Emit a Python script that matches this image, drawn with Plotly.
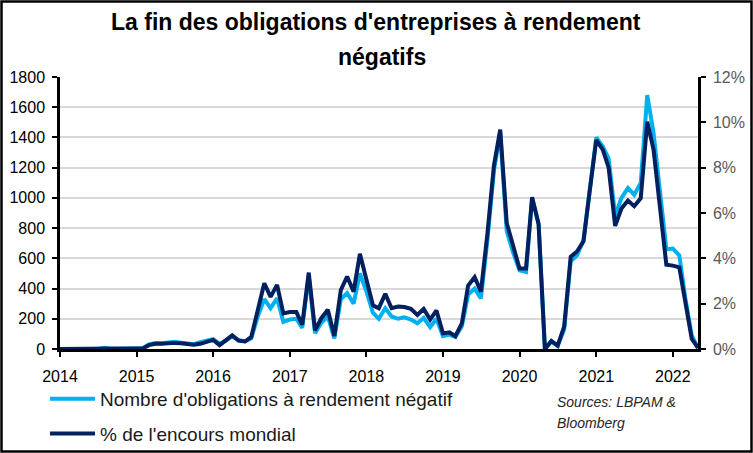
import pandas as pd
import plotly.graph_objects as go

# ---- data (monthly, Jan 2014 -> May 2022) ----
dates = pd.date_range("2014-01-01", "2022-05-01", freq="MS")

nombre_obligations = [
    0, 0, 0, 0, 0, 0, 0, 8, 0, 0, 0, 0,                              # 2014
    0, 5, 30, 40, 38, 45, 48, 42, 35, 32, 45, 58,                    # 2015
    65, 35, 55, 85, 60, 50, 70, 215, 330, 270, 335, 180,             # 2016
    195, 200, 140, 480, 105, 175, 215, 70, 330, 370, 300, 500,       # 2017
    380, 240, 200, 270, 215, 200, 210, 195, 170, 205, 145, 200,      # 2018
    85, 95, 80, 150, 360, 400, 335, 720, 1180, 1430, 780, 640,       # 2019
    520, 510, 1000, 830, 0, 50, 20, 130, 580, 620, 720, 1050,        # 2020
    1400, 1340, 1260, 880, 1000, 1065, 1020, 1100, 1680, 1430, 1060, 660,  # 2021
    665, 620, 340, 90, 5,                                            # 2022
]

pct_encours = [
    0, 0, 0, 0, 0, 0, 0, 0, 0, 0, 0, 0,                              # 2014
    0, 0.03, 0.17, 0.23, 0.23, 0.27, 0.27, 0.25, 0.2, 0.19, 0.23, 0.3,  # 2015
    0.4, 0.17, 0.37, 0.6, 0.37, 0.33, 0.53, 1.73, 2.9, 2.3, 2.83, 1.57,  # 2016
    1.63, 1.63, 1.07, 3.37, 0.83, 1.37, 1.73, 0.57, 2.6, 3.2, 2.53, 4.2,  # 2017
    3.13, 1.93, 1.8, 2.43, 1.8, 1.87, 1.85, 1.77, 1.5, 1.77, 1.3, 1.7,   # 2018
    0.69, 0.73, 0.57, 1.13, 2.8, 3.17, 2.53, 5.1, 8.1, 9.68, 5.56, 4.52,  # 2019
    3.55, 3.55, 6.7, 5.5, 0, 0.35, 0.15, 1.0, 4.07, 4.3, 4.75, 7.0,      # 2020
    9.22, 8.8, 8.0, 5.43, 6.2, 6.55, 6.3, 6.65, 10.03, 8.8, 6.4, 3.72,   # 2021
    3.68, 3.6, 2.1, 0.45, 0.05,                                      # 2022
]
pct_values = [v / 100 for v in pct_encours]

x_tick_labels = ["2014", "2015", "2016", "2017", "2018", "2019", "2020", "2021", "2022"]
x_tick_vals = [f"{y}-01-01" for y in x_tick_labels]

title_line1 = "La fin des obligations d'entreprises à rendement"
title_line2 = "négatifs"
name_count = "Nombre d'obligations à rendement négatif"
name_pct = "% de l'encours mondial"
source_line1 = "Sources: LBPAM &"
source_line2 = "Bloomberg"

# ---- styling ----
W, H = 753, 453
ML, MR, MT, MB = 60, 55, 77, 104
PW, PH = W - ML - MR, H - MT - MB
FONT = "Liberation Sans"
LIGHT = "#00B0F0"
NAVY = "#002060"

def px_x(p):
    return (p - ML) / PW

def px_y(p):
    return (H - MB - p) / PH

fig = go.Figure()
fig.add_trace(go.Scatter(
    x=dates, y=nombre_obligations, name=name_count, mode="lines",
    line=dict(color=LIGHT, width=4), legendgroup="a", yaxis="y",
))
fig.add_trace(go.Scatter(
    x=dates, y=pct_values, name=name_pct, mode="lines",
    line=dict(color=NAVY, width=4), legendgroup="b", yaxis="y2",
))

fig.update_layout(
    width=W, height=H,
    margin=dict(l=ML, r=MR, t=MT, b=MB, pad=0, autoexpand=False),
    paper_bgcolor="white", plot_bgcolor="white",
    font=dict(family=FONT, color="black", size=15),
    showlegend=True,
    legend=dict(
        x=px_x(45), y=px_y(380), xanchor="left", yanchor="top",
        bgcolor="rgba(0,0,0,0)", font=dict(size=19, family=FONT, color="#1A1A1A"),
        itemwidth=45, tracegroupgap=7, traceorder="grouped",
    ),
    xaxis=dict(
        type="date", range=[dates[0], dates[-1]],
        tickvals=x_tick_vals, ticktext=x_tick_labels,
        showgrid=False, showline=True, linecolor="black", linewidth=2.5,
        ticks="outside", ticklen=5, tickwidth=2, tickcolor="black",
        tickfont=dict(size=16, color="black"), ticklabelstandoff=6,
        zeroline=False, fixedrange=True,
    ),
    yaxis=dict(
        range=[0, 1800], tickvals=list(range(0, 1801, 200)),
        showgrid=True, gridcolor="#D9D9D9", gridwidth=1.5,
        showline=True, linecolor="black", linewidth=2.5,
        ticks="outside", ticklen=5, tickwidth=2, tickcolor="black",
        tickfont=dict(size=16, color="black"), ticklabelstandoff=4,
        zeroline=False,
    ),
    yaxis2=dict(
        range=[0, 0.12], overlaying="y", side="right",
        tickvals=[0, 0.02, 0.04, 0.06, 0.08, 0.10, 0.12], tickformat=".0%",
        showgrid=False, showline=True, linecolor="black", linewidth=2.5,
        ticks="outside", ticklen=5, tickwidth=2, tickcolor="black",
        tickfont=dict(size=16, color="#595959"), ticklabelstandoff=4,
        zeroline=False,
    ),
    annotations=[
        dict(text=f"<b>{title_line1}</b>", x=px_x(376), y=px_y(22), xref="paper", yref="paper",
             xanchor="center", yanchor="middle", showarrow=False,
             font=dict(size=23, family=FONT, color="black")),
        dict(text=f"<b>{title_line2}</b>", x=px_x(382), y=px_y(57), xref="paper", yref="paper",
             xanchor="center", yanchor="middle", showarrow=False,
             font=dict(size=23, family=FONT, color="black")),
        dict(text=f"<i>{source_line1}</i>", x=px_x(555), y=px_y(402), xref="paper", yref="paper",
             xanchor="left", yanchor="middle", align="left", showarrow=False,
             font=dict(size=14, family=FONT, color="#262626")),
        dict(text=f"<i>{source_line2}</i>", x=px_x(555), y=px_y(423), xref="paper", yref="paper",
             xanchor="left", yanchor="middle", align="left", showarrow=False,
             font=dict(size=14, family=FONT, color="#262626")),
    ],
    shapes=[
        dict(type="rect", xref="paper", yref="paper",
             x0=px_x(1.5), x1=px_x(W - 1.5), y0=px_y(H - 1.5), y1=px_y(1.5),
             line=dict(color="black", width=2.5), fillcolor="rgba(0,0,0,0)", layer="above"),
    ],
)

fig.write_html(
    "out.html",
    config={"displayModeBar": False},
    post_script="document.body.style.margin='0';document.body.style.padding='0';",
)
